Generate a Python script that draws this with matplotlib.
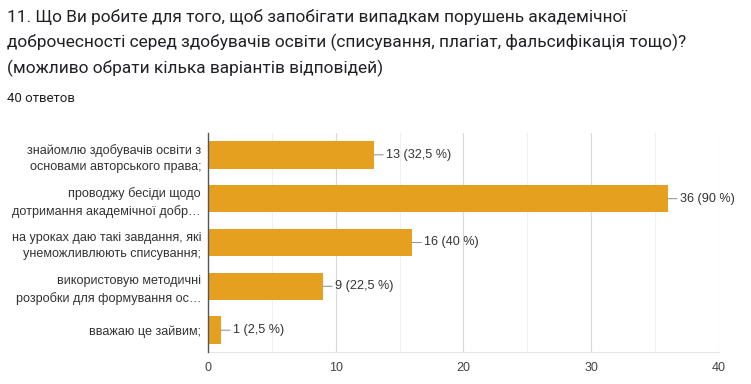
import numpy as np
import matplotlib.pyplot as plt

title_lines = [
    "11. Що Ви робите для того, щоб запобігати випадкам порушень академічної",
    "доброчесності серед здобувачів освіти (списування, плагіат, фальсифікація тощо)?",
    "(можливо обрати кілька варіантів відповідей)",
]
subtitle = "40 ответов"

categories = [
    "знайомлю здобувачів освіти з\nосновами авторського права;",
    "проводжу бесіди щодо\nдотримання академічної добр…",
    "на уроках даю такі завдання, які\nунеможливлюють списування;",
    "використовую методичні\nрозробки для формування ос…",
    "вважаю це зайвим;",
]
counts = [13, 36, 16, 9, 1]
percents = ["32,5", "90", "40", "22,5", "2,5"]

bar_color = "#e6a01f"

fig = plt.figure(figsize=(7.51, 3.84), dpi=100)
ax = fig.add_axes([0.277, 0.083, 0.68, 0.571])

y = np.arange(len(categories))
ax.barh(y, counts, height=0.63, color=bar_color, zorder=3)

ax.set_xlim(0, 40)
ax.set_ylim(len(categories) - 0.5, -0.5)
ax.set_xticks([0, 10, 20, 30, 40])
ax.set_xticks([5, 15, 25, 35], minor=True)
ax.xaxis.grid(True, which="major", color="#d9d9d9", lw=0.8, zorder=0)
ax.xaxis.grid(True, which="minor", color="#f0f0f0", lw=0.8, zorder=0)
ax.tick_params(axis="x", which="both", length=0, labelsize=9, colors="#444444", pad=7)
ax.set_yticks(y)
ax.set_yticklabels(categories, fontsize=9.1, color="#333333",
                   family="Liberation Sans", linespacing=1.5)
ax.tick_params(axis="y", length=0, pad=5)
for lbl in ax.get_xticklabels():
    lbl.set_family("Liberation Sans")

for s in ["top", "right"]:
    ax.spines[s].set_visible(False)
ax.spines["bottom"].set_color("#e6e6e6")
ax.spines["left"].set_color("#555555")
ax.spines["left"].set_linewidth(1.0)
ax.spines["left"].set_zorder(4)

# value labels with small leader lines
for yi, c, p in zip(y, counts, percents):
    ax.annotate(
        "%d (%s %%)" % (c, p),
        xy=(c, yi), xycoords="data",
        xytext=(12, 0), textcoords="offset pixels",
        va="center", ha="left", fontsize=9.1, color="#333333",
        family="Liberation Sans",
        arrowprops=dict(arrowstyle="-", color="#999999", lw=0.8,
                        relpos=(0, 0.5), shrinkA=0, shrinkB=0),
        annotation_clip=False,
    )

for i, line in enumerate(title_lines):
    fig.text(0.009, 1 - (17 + 25.5 * i) / 384, line, fontsize=12.4,
             family="Roboto", color="#202124", va="center", ha="left")
fig.text(0.009, 1 - 98 / 384, subtitle, fontsize=9.5, family="Roboto",
         color="#202124", va="center", ha="left")

fig.savefig("out.png", dpi=100, facecolor="white")
